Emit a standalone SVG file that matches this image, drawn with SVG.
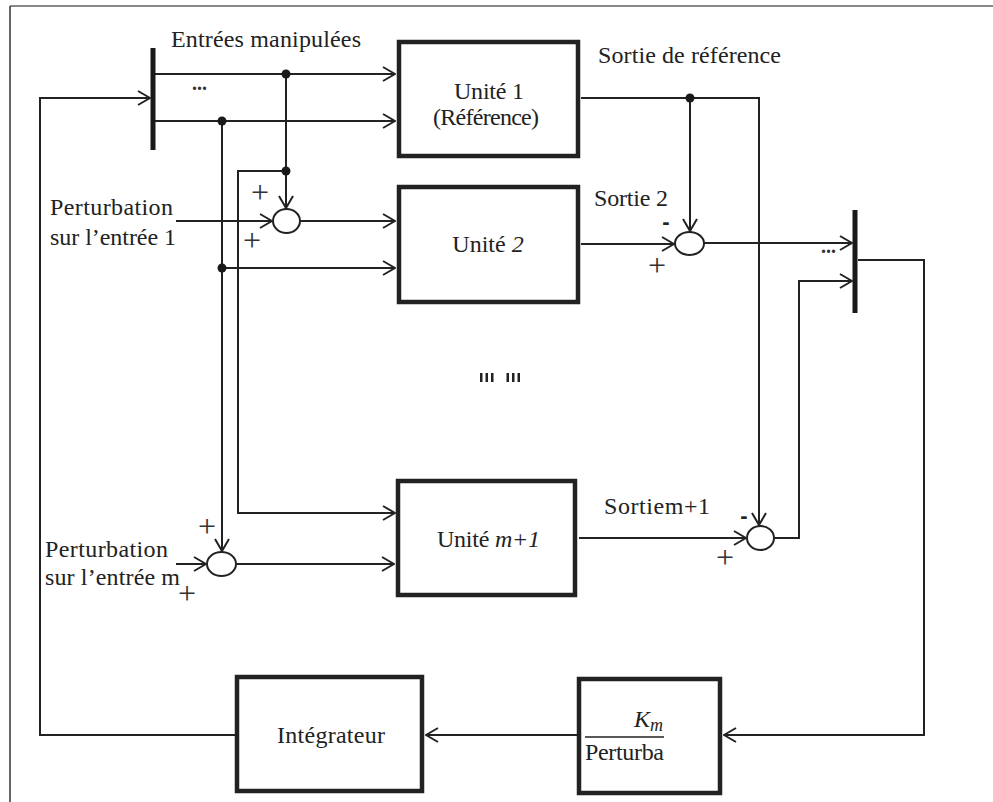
<svg xmlns="http://www.w3.org/2000/svg" width="993" height="802" viewBox="0 0 993 802">
<style>
.ln{fill:none;stroke:#222;stroke-width:2}
.box{fill:#fff;stroke:#222;stroke-width:4.5}
.sum{fill:#fff;stroke:#222;stroke-width:2}
.bar{fill:#1a1a1a}
.dot{fill:#1a1a1a}
.t{font-family:"Liberation Serif","Times New Roman",serif;font-size:24px;fill:#222}
.pm{font-family:"Liberation Serif","Times New Roman",serif;font-size:32px;fill:#333}
.mn{font-family:"Liberation Sans",Arial,sans-serif;font-size:22px;font-weight:bold;fill:#222}
.dots{font-family:"Liberation Serif",serif;font-size:20px;font-weight:bold;fill:#333}
</style>
<defs>
<marker id="ah" viewBox="0 0 14 16" refX="13" refY="8" markerWidth="14" markerHeight="16" markerUnits="userSpaceOnUse" orient="auto">
<path d="M1,1 L13,8 L1,15" fill="none" stroke="#222" stroke-width="2"/>
</marker>
</defs>
<rect width="993" height="802" fill="#fff"/>
<g id="frame">
<line x1="10" y1="6" x2="993" y2="6" stroke="#888" stroke-width="2"/>
<line x1="10" y1="6" x2="10" y2="802" stroke="#333" stroke-width="1.5"/>
</g>
<g id="connectors">
<path class="ln" d="M235,735 H40 V98 H150" marker-end="url(#ah)"/>
<path class="ln" d="M155,74 H395" marker-end="url(#ah)"/>
<path class="ln" d="M155,121 H395" marker-end="url(#ah)"/>
<path class="ln" d="M286,74 V208" marker-end="url(#ah)"/>
<path class="ln" d="M286,171 H238 V513 H395" marker-end="url(#ah)"/>
<path class="ln" d="M176,221 H272" marker-end="url(#ah)"/>
<path class="ln" d="M300,221 H395" marker-end="url(#ah)"/>
<path class="ln" d="M222,121 V551" marker-end="url(#ah)"/>
<path class="ln" d="M222,268 H395" marker-end="url(#ah)"/>
<path class="ln" d="M176,564 H206" marker-end="url(#ah)"/>
<path class="ln" d="M236,564 H394" marker-end="url(#ah)"/>
<path class="ln" d="M581,98 H759 V525" marker-end="url(#ah)"/>
<path class="ln" d="M690,98 V231" marker-end="url(#ah)"/>
<path class="ln" d="M581,244 H674" marker-end="url(#ah)"/>
<path class="ln" d="M704,243 H852" marker-end="url(#ah)"/>
<path class="ln" d="M579,538 H746" marker-end="url(#ah)"/>
<path class="ln" d="M774,538 H799 V281 H852" marker-end="url(#ah)"/>
<path class="ln" d="M858,260 H924 V735 H724" marker-end="url(#ah)"/>
<path class="ln" d="M577,735 H426" marker-end="url(#ah)"/>
</g>
<g id="junctions">
<circle class="dot" cx="286" cy="74" r="4.5"/>
<circle class="dot" cx="222" cy="121" r="4.5"/>
<circle class="dot" cx="286" cy="171" r="4.5"/>
<circle class="dot" cx="222" cy="268" r="4.5"/>
<circle class="dot" cx="690" cy="98" r="4.5"/>
</g>
<g id="mux-in">
<rect class="bar" x="150.5" y="48" width="5" height="102"/>
<text class="dots" x="192" y="90">...</text>
</g>
<g id="mux-out">
<rect class="bar" x="852.5" y="210" width="5" height="103"/>
<text class="dots" x="821" y="253">...</text>
</g>
<g id="label-entrees">
<text class="t" x="171" y="47" textLength="190" lengthAdjust="spacing">Entrées manipulées</text>
</g>
<g id="label-sortie-ref">
<text class="t" x="598" y="63" textLength="183" lengthAdjust="spacing">Sortie de référence</text>
</g>
<g id="unite1">
<rect class="box" x="399" y="42" width="179" height="114"/>
<text class="t" x="489" y="99" text-anchor="middle" textLength="70" lengthAdjust="spacing">Unité 1</text>
<text class="t" x="486" y="125" text-anchor="middle" textLength="106" lengthAdjust="spacing">(Référence)</text>
</g>
<g id="unite2">
<rect class="box" x="399" y="187" width="179" height="115"/>
<text class="t" x="488" y="252" text-anchor="middle">Unité <tspan font-style="italic">2</tspan></text>
</g>
<g id="unitem1">
<rect class="box" x="398" y="481" width="177" height="114"/>
<text class="t" x="437" y="547" textLength="103" lengthAdjust="spacing">Unité <tspan font-style="italic">m+1</tspan></text>
</g>
<g id="sum1">
<ellipse class="sum" cx="286.5" cy="221" rx="13.5" ry="12"/>
<text class="pm" x="260" y="203" text-anchor="middle">+</text>
<text class="pm" x="252" y="251" text-anchor="middle">+</text>
</g>
<g id="summ">
<ellipse class="sum" cx="221.5" cy="564" rx="14.5" ry="12"/>
<text class="pm" x="207" y="537" text-anchor="middle">+</text>
<text class="pm" x="187" y="604" text-anchor="middle">+</text>
</g>
<g id="sum2">
<ellipse class="sum" cx="689.5" cy="243.5" rx="14.5" ry="11.5"/>
<text class="mn" x="666" y="229" text-anchor="middle">-</text>
<text class="pm" x="657" y="276" text-anchor="middle">+</text>
</g>
<g id="summ1">
<ellipse class="sum" cx="760.5" cy="538" rx="13.5" ry="12"/>
<text class="mn" x="744" y="523" text-anchor="middle">-</text>
<text class="pm" x="725" y="568" text-anchor="middle">+</text>
</g>
<g id="pert1">
<text class="t" x="50" y="215" textLength="123" lengthAdjust="spacing">Perturbation</text>
<text class="t" x="50" y="245" textLength="126" lengthAdjust="spacing">sur l’entrée 1</text>
</g>
<g id="pertm">
<text class="t" x="45" y="557" textLength="123" lengthAdjust="spacing">Perturbation</text>
<text class="t" x="45" y="585" textLength="135" lengthAdjust="spacing">sur l’entrée m</text>
</g>
<g id="label-sortie2">
<text class="t" x="594" y="206" textLength="74" lengthAdjust="spacing">Sortie 2</text>
</g>
<g id="label-sortiem1">
<text class="t" x="604" y="514" textLength="106" lengthAdjust="spacing">Sortiem+1</text>
</g>
<g id="ellipsis">
<rect x="480" y="373" width="2.5" height="9" fill="#222"/>
<rect x="485.5" y="373" width="2.5" height="9" fill="#222"/>
<rect x="491" y="373" width="2.5" height="9" fill="#222"/>
<rect x="506.5" y="373" width="2.5" height="9" fill="#222"/>
<rect x="512" y="373" width="2.5" height="9" fill="#222"/>
<rect x="517.5" y="373" width="2.5" height="9" fill="#222"/>
</g>
<g id="integrateur">
<rect class="box" x="237" y="677" width="185" height="114"/>
<text class="t" x="277" y="743" textLength="108" lengthAdjust="spacing">Intégrateur</text>
</g>
<g id="gain">
<rect class="box" x="579" y="679" width="141" height="114"/>
<text class="t" x="634" y="727" font-style="italic">K<tspan font-size="18" dy="4">m</tspan></text>
<line x1="585" y1="737" x2="664" y2="737" stroke="#222" stroke-width="1.5"/>
<text class="t" x="585" y="760" textLength="79" lengthAdjust="spacing">Perturba</text>
</g>
</svg>
